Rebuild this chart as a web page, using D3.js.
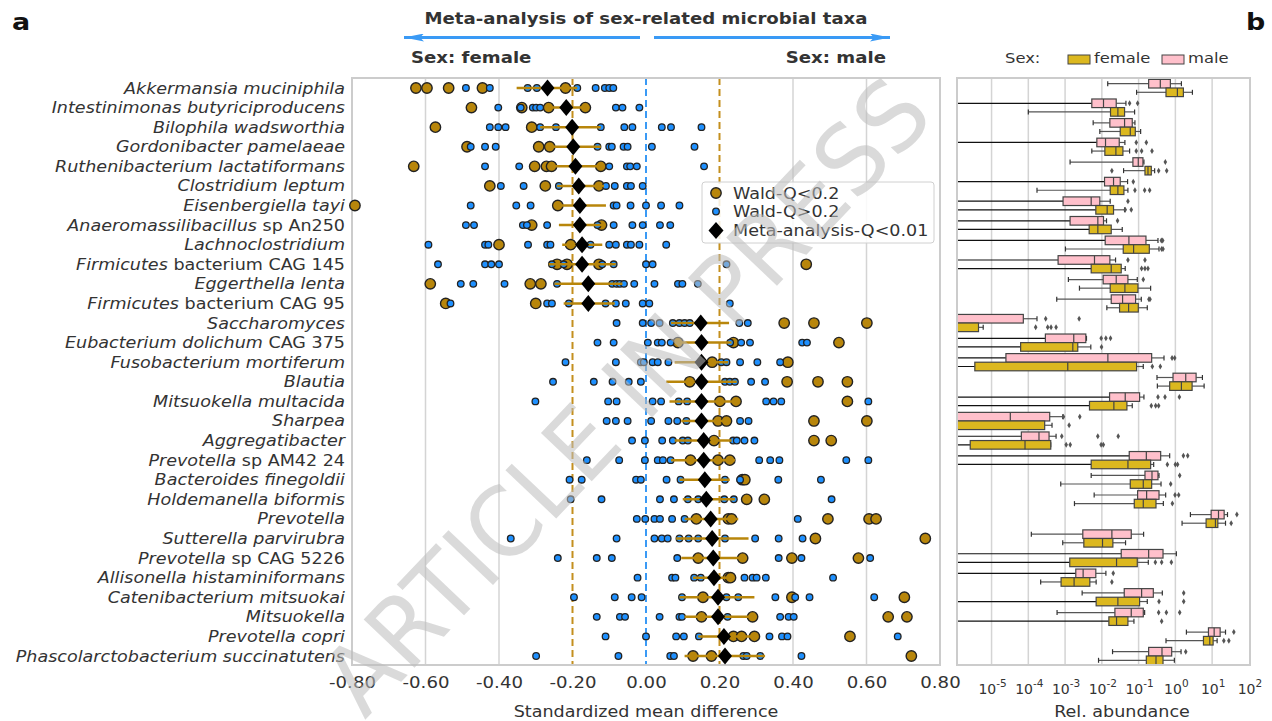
<!DOCTYPE html>
<html>
<head>
<meta charset="utf-8">
<script src="https://cdn.jsdelivr.net/npm/d3@7"></script>
<style>
  body { margin: 0; background: #fff; }
  text { font-family: "DejaVu Sans", Verdana, sans-serif; fill: #333; }
</style>
</head>
<body>
<script>
// taxa, top to bottom
var taxa = [
  "Akkermansia muciniphila", "Intestinimonas butyriciproducens", "Bilophila wadsworthia",
  "Gordonibacter pamelaeae", "Ruthenibacterium lactatiformans", "Clostridium leptum",
  "Eisenbergiella tayi", "Anaeromassilibacillus sp An250", "Lachnoclostridium",
  "Firmicutes bacterium CAG 145", "Eggerthella lenta", "Firmicutes bacterium CAG 95",
  "Saccharomyces", "Eubacterium dolichum CAG 375", "Fusobacterium mortiferum",
  "Blautia", "Mitsuokella multacida", "Sharpea", "Aggregatibacter", "Prevotella sp AM42 24",
  "Bacteroides finegoldii", "Holdemanella biformis", "Prevotella", "Sutterella parvirubra",
  "Prevotella sp CAG 5226", "Allisonella histaminiformans", "Catenibacterium mitsuokai",
  "Mitsuokella", "Prevotella copri", "Phascolarctobacterium succinatutens"
];

// pooled effect (standardized mean difference) and its interval
var metaEffect = [-0.268, -0.217, -0.201, -0.198, -0.192, -0.183, -0.180, -0.180, -0.174, -0.174, -0.157, -0.157,
  0.149, 0.151, 0.151, 0.151, 0.151, 0.151, 0.157, 0.157, 0.160, 0.164, 0.176, 0.180, 0.183, 0.185, 0.196, 0.196, 0.212, 0.215];
var metaLow = [-0.352, -0.265, -0.288, -0.262, -0.260, -0.242, -0.251, -0.237, -0.228, -0.265, -0.249, -0.224,
  0.068, 0.087, 0.078, 0.055, 0.064, 0.096, 0.078, 0.068, 0.091, 0.100, 0.105, 0.082, 0.096, 0.128, 0.091, 0.105, 0.142, 0.105];
var metaHigh = [-0.187, -0.165, -0.123, -0.123, -0.123, -0.114, -0.109, -0.114, -0.119, -0.082, -0.064, -0.085,
  0.226, 0.233, 0.224, 0.247, 0.256, 0.228, 0.233, 0.242, 0.228, 0.242, 0.251, 0.279, 0.265, 0.237, 0.295, 0.292, 0.292, 0.324];

// single-study effects, Wald-Q < 0.2
var studySig = [
  [-0.626, -0.596, -0.537, -0.445, -0.219],
  [-0.475, -0.338, -0.265, -0.165],
  [-0.573, -0.311],
  [-0.487, -0.292, -0.262],
  [-0.632, -0.303, -0.271, -0.257, -0.123],
  [-0.425, -0.274, -0.128],
  [-0.792, -0.240],
  [-0.311, -0.121],
  [-0.400, -0.205],
  [-0.242, -0.215, -0.128, 0.436],
  [-0.587, -0.315, -0.286],
  [-0.545, -0.300],
  [0.376, 0.457, 0.601],
  [0.087, 0.238, 0.525],
  [0.180, 0.386],
  [0.119, 0.384, 0.468, 0.548],
  [0.201, 0.245, 0.548],
  [0.196, 0.219, 0.457, 0.601],
  [0.185, 0.457, 0.504],
  [0.121, 0.196, 0.228],
  [0.262, 0.269],
  [0.274, 0.322],
  [0.137, 0.224, 0.233, 0.495, 0.607, 0.626],
  [0.461, 0.760],
  [0.142, 0.263, 0.397, 0.578],
  [0.224, 0.230],
  [0.155, 0.397, 0.703],
  [0.151, 0.290, 0.659, 0.710],
  [0.238, 0.260, 0.295, 0.555],
  [0.128, 0.178, 0.722]
];

// single-study effects, Wald-Q > 0.2
var studyNs = [
  [-0.490, -0.425, -0.322, -0.297, -0.187, -0.137, -0.112, -0.100, -0.089],
  [-0.402, -0.341, -0.308, -0.299, -0.288, -0.082, -0.064, -0.018],
  [-0.425, -0.402, -0.382, -0.288, -0.245, -0.123, -0.059, -0.037, 0.043, 0.068, 0.151],
  [-0.477, -0.438, -0.409, -0.132, -0.100, -0.093, -0.061, -0.050, 0.016, 0.132],
  [-0.438, -0.345, -0.100, -0.052, -0.043, -0.025, 0.158],
  [-0.395, -0.333, -0.237, -0.109, -0.085, -0.052, -0.041, -0.009],
  [-0.477, -0.353, -0.314, -0.088, -0.080, -0.042, 0.000, 0.041, 0.091],
  [-0.490, -0.468, -0.335, -0.324, -0.269, -0.132, -0.088, -0.037, -0.009, 0.038, 0.066],
  [-0.592, -0.438, -0.429, -0.321, -0.269, -0.260, -0.151, -0.100, -0.082, -0.052, -0.041, -0.018, 0.055],
  [-0.566, -0.438, -0.421, -0.400, -0.256, -0.224, -0.119, -0.088, 0.000, 0.018, 0.219],
  [-0.504, -0.470, -0.385, -0.242, -0.092, -0.080, -0.071, -0.060, -0.032, 0.023, 0.087, 0.099, 0.141],
  [-0.532, -0.269, -0.256, -0.210, -0.110, -0.082, -0.055, -0.009, 0.009, 0.228],
  [-0.080, -0.009, 0.014, 0.037, 0.073, 0.091, 0.105, 0.119, 0.254, 0.277],
  [-0.132, -0.088, 0.005, 0.032, 0.043, 0.067, 0.229, 0.259, 0.283, 0.425, 0.438],
  [-0.219, -0.082, -0.014, -0.006, 0.018, 0.032, 0.061, 0.205, 0.219, 0.256, 0.303, 0.365],
  [-0.253, -0.142, -0.091, -0.047, -0.014, 0.215, 0.228, 0.242, 0.286, 0.324],
  [-0.301, -0.103, -0.080, 0.018, 0.041, 0.089, 0.112, 0.327, 0.347, 0.368, 0.605],
  [-0.107, -0.082, -0.050, 0.014, 0.061, 0.085, 0.110, 0.256, 0.279],
  [-0.038, -0.003, 0.044, 0.073, 0.100, 0.114, 0.237, 0.247, 0.268, 0.295],
  [-0.161, -0.073, -0.003, 0.032, 0.046, 0.067, 0.308, 0.338, 0.363, 0.545, 0.605],
  [-0.208, -0.175, -0.027, -0.014, 0.056, 0.094, 0.215, 0.256, 0.360, 0.476],
  [-0.205, -0.121, 0.038, 0.076, 0.114, 0.142, 0.213, 0.239, 0.505],
  [-0.025, -0.002, 0.023, 0.038, 0.071, 0.105, 0.413],
  [-0.368, -0.080, 0.023, 0.043, 0.059, 0.091, 0.116, 0.142, 0.215, 0.297, 0.361, 0.426],
  [-0.240, -0.134, -0.093, 0.085, 0.361, 0.423, 0.610],
  [-0.023, 0.071, 0.080, 0.131, 0.149, 0.268, 0.290, 0.301, 0.326, 0.509],
  [-0.196, -0.085, -0.039, -0.012, 0.098, 0.219, 0.251, 0.352, 0.406, 0.445, 0.621],
  [-0.134, -0.071, -0.057, 0.037, 0.091, 0.098, 0.222, 0.365, 0.388, 0.402],
  [-0.110, 0.000, 0.082, 0.103, 0.144, 0.336, 0.370, 0.385, 0.685],
  [-0.299, -0.075, 0.066, 0.076, 0.265, 0.274, 0.311, 0.423]
];

var xTicks = [-0.8, -0.6, -0.4, -0.2, 0, 0.2, 0.4, 0.6, 0.8];

// panel b: log10 relative abundance, [whisker lo, q1, median, q3, whisker hi]; Z = zero abundance
var Z = -8;
var maleLog10 = [
  [-1.84, -0.727, -0.41, -0.136, 0.164], [Z, -2.273, -1.955, -1.609, -1.345], [-2.236, -1.782, -1.382, -1.173, -1.1],
  [Z, -2.136, -1.9, -1.527, -1.373], [-2.864, -1.155, -1.009, -0.882, -0.855], [Z, -1.927, -1.682, -1.5, -1.3],
  [Z, -3.055, -2.29, -2.055, -1.773], [Z, -2.864, -2.109, -1.955, -1.873], [Z, -1.909, -1.264, -0.8, -0.473],
  [Z, -3.19, -2.2, -1.782, -1.627], [-2.91, -1.964, -1.609, -1.291, -1.036], [-3.227, -1.745, -1.436, -1.082, -0.927],
  [Z, Z, Z, -4.136, -3.764], [Z, -3.536, -2.764, -2.436, -2.418], [Z, -4.609, -1.836, -0.645, -0.309],
  [-0.5, -0.064, 0.282, 0.564, 0.736], [Z, -1.79, -1.364, -0.973, -0.855], [Z, Z, -4.49, -3.418, -3.064],
  [Z, -4.19, -3.71, -3.436, -3.245], [Z, -1.255, -0.79, -0.4, -0.155], [-2.29, -0.827, -0.636, -0.473, -0.445],
  [-2.209, -1.027, -0.782, -0.445, -0.264], [0.409, 0.973, 1.173, 1.327, 1.418], [-3.918, -2.518, -1.727, -1.2, -0.864],
  [Z, -1.473, -0.727, -0.336, 0.027], [Z, -2.709, -2.509, -2.164, -1.89], [-2.536, -1.391, -0.918, -0.6, -0.355],
  [-3.218, -1.645, -1.2, -0.873, -0.836], [0.3, 0.9, 1.055, 1.218, 1.364], [-1.709, -0.727, -0.364, -0.1, 0.155]
];
var maleOut = [
  [], [-1.245, -1.027], [], [-1.064, -0.79], [-0.273], [-1.145], [-1.29], [-1.573], [-0.382, -0.345],
  [-1.29, -0.827], [-0.873], [-0.72, -0.69], [-3.527, -2.618], [-2.018, -1.89, -1.764], [-0.09, -0.018],
  [], [-0.473, -0.282, 0.109], [-3.045, -2.6], [-3.09, -2.11, -1.555], [0.218, 0.336], [0.118],
  [-0.009, 0.09], [1.673], [], [], [-1.69], [0.227], [-0.455, -0.245, 0.118], [1.59], [0.282]
];
var femaleLog10 = [
  [-1.055, -0.255, 0.055, 0.218, 0.464], [-4.0, -1.764, -1.564, -1.382, -1.109], [-2.055, -1.5, -1.227, -1.09, -0.945],
  [-2.273, -1.918, -1.618, -1.427, -1.245], [-1.409, -0.827, -0.745, -0.655, -0.564], [-3.764, -1.773, -1.564, -1.4, -1.291],
  [Z, -2.164, -1.855, -1.682, -1.382], [Z, -2.345, -2.109, -1.745, -1.445], [-2.99, -1.418, -1.136, -0.709, -0.445],
  [Z, -2.29, -1.745, -1.473, -1.364], [-2.609, -1.773, -1.373, -1.018, -0.673], [-1.864, -1.518, -1.273, -1.009, -0.764],
  [Z, Z, Z, -5.355, -5.227], [Z, -4.209, -2.79, -2.655, -2.3], [Z, -5.455, -2.927, -1.055, -0.873],
  [-0.49, -0.155, 0.164, 0.455, 0.782], [Z, -2.336, -1.673, -1.318, -1.173], [Z, Z, Z, -3.555, -3.355],
  [Z, -5.58, -4.09, -3.39, -3.39], [Z, -2.29, -1.29, -0.673, -0.59], [-3.118, -1.227, -0.873, -0.645, -0.39],
  [-2.745, -1.118, -0.873, -0.527, -0.327], [0.182, 0.836, 1.09, 1.155, 1.364], [-3.064, -2.49, -1.982, -1.7, -1.355],
  [Z, -2.873, -1.6, -1.036, -0.736], [-3.664, -3.109, -2.755, -2.327, -2.155], [Z, -2.155, -1.564, -0.973, -0.764],
  [Z, -1.809, -1.6, -1.291, -1.127], [-0.255, 0.764, 0.936, 1.027, 1.136], [-2.09, -0.79, -0.527, -0.336, -0.027]
];
var femaleOut = [
  [], [], [], [-1.064, -0.918, -0.636], [-1.727, -0.455, -0.236], [-1.1, -0.836, -0.7], [-1.364, -1.2], [],
  [-0.373, -0.336], [-0.918, -0.827, -0.745], [], [], [-3.8, -3.473, -3.382, -3.245], [-2.009], [-0.627, -0.41],
  [], [-0.655, -0.536, -0.455], [-2.89], [-2.97, -2.86, -2.02, -1.96], [-0.218, 0.0, 0.06], [-0.127], [-0.082],
  [1.518], [], [-0.545, -0.373, -0.109], [-1.727], [-0.445, 0.227], [-0.373], [1.318, 1.455], []
];
var abundTicks = [-5, -4, -3, -2, -1, 0, 1, 2];

var gold = "#b8860b", blue = "#1e90ff", arrowBlue = "#3a9af5";
var femaleCol = "#dcb81f", maleCol = "#ffc0cb";
var WIDE = " scale(1.17,1)"; // the original face runs wider than DejaVu

var svg = d3.select("body").append("svg")
  .attr("width", 1272)
  .attr("height", 721);

var plotTop = 78, plotBottom = 665;
var x = d3.scaleLinear().domain([-0.8, 0.8]).range([352, 940]);
var y = d3.scalePoint().domain(taxa).range([88, 656]);
var xr = d3.scaleLog().domain([Math.pow(10, -5.94), Math.pow(10, 2.03)]).range([957, 1250]);

function label(px, py, s, size, anchor, bold, wide) {
  return svg.append("text")
    .attr("transform", "translate(" + px + "," + py + ")" + (wide === false ? "" : WIDE))
    .attr("text-anchor", anchor || "start")
    .style("font-size", size + "px")
    .style("font-weight", bold ? "bold" : "normal")
    .text(s);
}

// ---------- panel a ----------
label(12, 30, "a", 23, "start", true).style("fill", "#111");
label(1246, 30, "b", 23, "start", true).style("fill", "#111");

label(646, 24, "Meta-analysis of sex-related microbial taxa", 15.5, "middle", true);

var defs = svg.append("defs");
defs.append("marker").attr("id", "ah").attr("viewBox", "0 0 20 8")
  .attr("refX", 20).attr("refY", 4).attr("markerWidth", 20).attr("markerHeight", 8)
  .attr("markerUnits", "userSpaceOnUse").attr("orient", "auto")
  .append("path").attr("d", "M0,0L20,4L0,8L4,4Z").attr("fill", arrowBlue);

svg.append("line").attr("x1", 640).attr("x2", 404).attr("y1", 37.5).attr("y2", 37.5)
  .attr("stroke", arrowBlue).attr("stroke-width", 3).attr("marker-end", "url(#ah)");
svg.append("line").attr("x1", 654).attr("x2", 890).attr("y1", 37.5).attr("y2", 37.5)
  .attr("stroke", arrowBlue).attr("stroke-width", 3).attr("marker-end", "url(#ah)");

label(411, 63, "Sex: female", 15.5, "start", true);
label(886, 63, "Sex: male", 15.5, "end", true);

// grid
svg.selectAll(".grid").data([-0.6, -0.4, 0.4, 0.6]).enter().append("line")
  .attr("x1", function(d){return x(d);}).attr("x2", function(d){return x(d);})
  .attr("y1", plotTop).attr("y2", plotBottom)
  .attr("stroke", "#d4d4d4").attr("stroke-width", 1.5);

svg.selectAll(".ref").data([-0.2, 0, 0.2]).enter().append("line")
  .attr("x1", function(d){return x(d);}).attr("x2", function(d){return x(d);})
  .attr("y1", plotTop).attr("y2", plotBottom)
  .attr("stroke", function(d){return d === 0 ? arrowBlue : "#c48f1e";})
  .attr("stroke-width", 2).attr("stroke-dasharray", "7,4");

svg.append("rect").attr("x", 352).attr("y", plotTop).attr("width", 588).attr("height", plotBottom - plotTop)
  .attr("fill", "none").attr("stroke", "#cccccc").attr("stroke-width", 2);

// y labels (genus/species italic, strain part upright)
taxa.forEach(function(name) {
  var words = name.split(" ");
  var i = 0;
  while (i < words.length && !/^(sp|bacterium|CAG)$/.test(words[i]) && !/\d/.test(words[i])) i++;
  var t = label(345, y(name) + 5.5, null, 15, "end");
  t.append("tspan").style("font-style", "italic").text(words.slice(0, i).join(" "));
  if (i < words.length) t.append("tspan").text(" " + words.slice(i).join(" "));
});

// study dots
var pts = svg.append("g");
taxa.forEach(function(name, r) {
  pts.selectAll(null).data(studySig[r]).enter().append("circle")
    .attr("cx", function(d){return x(d);}).attr("cy", y(name)).attr("r", 5.2)
    .attr("fill", gold).attr("stroke", "#222").attr("stroke-width", 1.4);
});
taxa.forEach(function(name, r) {
  pts.selectAll(null).data(studyNs[r]).enter().append("circle")
    .attr("cx", function(d){return x(d);}).attr("cy", y(name)).attr("r", 3.3)
    .attr("fill", blue).attr("stroke", "#222").attr("stroke-width", 1.3);
});

// meta intervals + diamonds
svg.selectAll(".ci").data(taxa).enter().append("line")
  .attr("x1", function(d, i){return x(metaLow[i]);})
  .attr("x2", function(d, i){return x(metaHigh[i]);})
  .attr("y1", function(d){return y(d);}).attr("y2", function(d){return y(d);})
  .attr("stroke", gold).attr("stroke-width", 2.5);

svg.selectAll(".dia").data(taxa).enter().append("path")
  .attr("d", "M0,-8.5L7,0L0,8.5L-7,0Z")
  .attr("transform", function(d, i){return "translate(" + x(metaEffect[i]) + "," + y(d) + ")";})
  .attr("fill", "#000");

// legend
var lg = svg.append("g").attr("transform", "translate(702,182)");
lg.append("rect").attr("width", 232).attr("height", 61).attr("rx", 3)
  .attr("fill", "#fff").attr("fill-opacity", 0.85).attr("stroke", "#d0d0d0");
lg.append("circle").attr("cx", 14).attr("cy", 11).attr("r", 5.2)
  .attr("fill", gold).attr("stroke", "#222").attr("stroke-width", 1.4);
lg.append("circle").attr("cx", 14).attr("cy", 29.5).attr("r", 3.3)
  .attr("fill", blue).attr("stroke", "#222").attr("stroke-width", 1.3);
lg.append("path").attr("d", "M14,40L21.5,48.5L14,57L6.5,48.5Z").attr("fill", "#000");
["Wald-Q<0.2", "Wald-Q>0.2", "Meta-analysis-Q<0.01"].forEach(function(s, i) {
  lg.append("text").attr("transform", "translate(31," + (16.5 + i * 18.8) + ")" + WIDE)
    .style("font-size", "15px").text(s);
});

// x axis a
var ax = svg.append("g").attr("transform", "translate(0," + (plotBottom + 4) + ")")
  .call(d3.axisBottom(x).tickValues(xTicks).tickSize(0).tickFormat(function(d){return d.toFixed(2);}));
ax.select(".domain").remove();
ax.selectAll("text").style("font-size", "15.5px").style("font-family", "DejaVu Sans")
  .attr("fill", "#333").attr("dy", "1.05em").attr("transform", "scale(1.17,1)");

label(646, 717, "Standardized mean difference", 15, "middle");

// ---------- panel b ----------
svg.append("defs").append("clipPath").attr("id", "clipb")
  .append("rect").attr("x", 958).attr("y", plotTop).attr("width", 291).attr("height", plotBottom - plotTop);

svg.selectAll(".gridb").data([-5, -4, -3, -2, -1, 0, 1]).enter().append("line")
  .attr("x1", function(d){return xr(Math.pow(10, d));}).attr("x2", function(d){return xr(Math.pow(10, d));})
  .attr("y1", plotTop).attr("y2", plotBottom)
  .attr("stroke", "#d4d4d4").attr("stroke-width", 1.5);

var bx = svg.append("g").attr("clip-path", "url(#clipb)");
var p = function(v){return xr(Math.pow(10, v));};

function drawBox(stats, outs, cy, fill) {
  var h = 8.6;
  bx.append("line").attr("x1", p(stats[0])).attr("x2", p(stats[1])).attr("y1", cy).attr("y2", cy)
    .attr("stroke", stats[0] === Z ? "#111" : "#555").attr("stroke-width", 1.2);
  bx.append("line").attr("x1", p(stats[3])).attr("x2", p(stats[4])).attr("y1", cy).attr("y2", cy)
    .attr("stroke", "#555").attr("stroke-width", 1.2);
  [stats[0], stats[4]].forEach(function(v) {
    if (v === Z) return;
    bx.append("line").attr("x1", p(v)).attr("x2", p(v)).attr("y1", cy - 2.5).attr("y2", cy + 2.5)
      .attr("stroke", "#333").attr("stroke-width", 1.2);
  });
  bx.append("rect").attr("x", p(stats[1])).attr("y", cy - h / 2)
    .attr("width", Math.max(0, p(stats[3]) - p(stats[1]))).attr("height", h)
    .attr("fill", fill).attr("stroke", "#444").attr("stroke-width", 1.2);
  bx.append("line").attr("x1", p(stats[2])).attr("x2", p(stats[2])).attr("y1", cy - h / 2).attr("y2", cy + h / 2)
    .attr("stroke", "#444").attr("stroke-width", 1.2);
  bx.selectAll(null).data(outs).enter().append("path")
    .attr("d", "M0,-3L1.8,0L0,3L-1.8,0Z")
    .attr("transform", function(v){return "translate(" + p(v) + "," + cy + ")";})
    .attr("fill", "#555");
}

taxa.forEach(function(name, r) {
  drawBox(maleLog10[r], maleOut[r], y(name) - 4.3, maleCol);
  drawBox(femaleLog10[r], femaleOut[r], y(name) + 4.3, femaleCol);
});

svg.append("rect").attr("x", 957).attr("y", plotTop).attr("width", 293).attr("height", plotBottom - plotTop)
  .attr("fill", "none").attr("stroke", "#cccccc").attr("stroke-width", 2);

// sex legend
label(1005, 63, "Sex:", 14, "start");
svg.append("rect").attr("x", 1068).attr("y", 55).attr("width", 22).attr("height", 9)
  .attr("fill", femaleCol).attr("stroke", "#444").attr("stroke-width", 1);
label(1094, 63, "female", 14, "start");
svg.append("rect").attr("x", 1162).attr("y", 55).attr("width", 22).attr("height", 9)
  .attr("fill", maleCol).attr("stroke", "#444").attr("stroke-width", 1);
label(1188, 63, "male", 14, "start");

// x axis b
abundTicks.forEach(function(d) {
  var t = label(xr(Math.pow(10, d)) + 1, 694, null, 14, "middle", false, false);
  t.append("tspan").text("10");
  t.append("tspan").attr("dy", -7).style("font-size", "10.5px").text(d < 0 ? "-" + (-d) : d);
});

label(1122, 717, "Rel. abundance", 15, "middle");

// watermark
svg.append("text")
  .attr("transform", "translate(626,396) rotate(-46.5)")
  .attr("text-anchor", "middle").attr("dy", "0.35em")
  .attr("textLength", 830).attr("lengthAdjust", "spacingAndGlyphs")
  .style("font-size", "96px").style("fill", "#bdbdbd").style("opacity", 0.55)
  .text("ARTICLE IN PRESS");
</script>
</body>
</html>
